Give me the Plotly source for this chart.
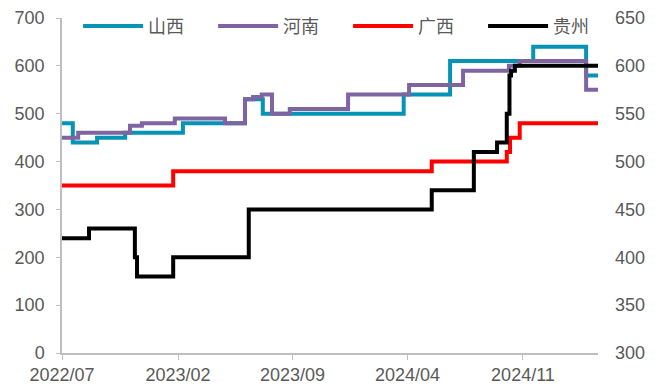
import plotly.graph_objects as go

# Step-wise price series (date of each change, level from that date on)
shanxi_dates = ["2022-07-01", "2022-07-21", "2022-09-04", "2022-10-26", "2023-02-10",
                "2023-06-05", "2023-07-08", "2024-03-25", "2024-06-19", "2024-11-20",
                "2025-02-26", "2025-03-20"]
shanxi_vals = [480, 440, 450, 460, 480, 530, 500, 540, 610, 640, 580, 580]

henan_dates = ["2022-07-01", "2022-07-31", "2022-11-04", "2022-11-26", "2023-01-26",
               "2023-04-29", "2023-06-05", "2023-06-20", "2023-07-06", "2023-07-25",
               "2023-08-27", "2023-12-13", "2024-04-04", "2024-07-13", "2024-10-06",
               "2024-10-26", "2025-02-26", "2025-03-20"]
henan_vals = [450, 460, 475, 480, 490, 480, 530, 535, 540, 500, 510, 540, 560, 590,
              600, 610, 550, 550]

guangxi_dates = ["2022-07-01", "2023-01-23", "2024-05-16", "2024-10-02", "2024-10-08",
                 "2024-10-26", "2025-03-20"]
guangxi_vals = [350, 380, 400, 420, 450, 480, 480]

guizhou_dates = ["2022-07-01", "2022-08-20", "2022-11-13", "2022-11-17", "2023-01-23",
                 "2023-06-12", "2024-05-16", "2024-08-02", "2024-09-14", "2024-10-02",
                 "2024-10-07", "2024-10-10", "2024-10-17", "2025-03-20"]
guizhou_vals = [240, 260, 200, 160, 200, 300, 340, 420, 440, 500, 580, 590, 600, 600]

tick_dates = ["2022-07-01", "2023-02-01", "2023-09-01", "2024-04-01", "2024-11-01"]
tick_labels = ["2022/07", "2023/02", "2023/09", "2024/04", "2024/11"]

x_range = ["2022-07-01", "2025-03-20"]

series = [
    ("山西", shanxi_dates, shanxi_vals, "#0593B6"),
    ("河南", henan_dates, henan_vals, "#8064A2"),
    ("广西", guangxi_dates, guangxi_vals, "#FF0000"),
    ("贵州", guizhou_dates, guizhou_vals, "#000000"),
]

fig = go.Figure()
for name, xs, ys, color in series:
    fig.add_trace(go.Scatter(
        x=xs, y=ys, name=name, mode="lines",
        line=dict(color=color, width=4, shape="hv"),
    ))

# carrier trace so the secondary axis is drawn
fig.add_trace(go.Scatter(
    x=[x_range[0]], y=[300], yaxis="y2", mode="markers",
    marker=dict(opacity=0), showlegend=False, hoverinfo="skip",
))

tick_font = dict(family="Liberation Sans, Arial, sans-serif", size=18, color="#595959")

fig.update_layout(
    width=666, height=387,
    margin=dict(l=62, r=68, t=18, b=34, autoexpand=False),
    paper_bgcolor="white", plot_bgcolor="white",
    showlegend=True,
    legend=dict(
        orientation="h", x=0.03, xanchor="left", y=0.975, yanchor="middle",
        font=dict(family="Noto Sans CJK SC", size=18, color="#595959"),
        bgcolor="rgba(0,0,0,0)", itemwidth=60,
        entrywidth=60, entrywidthmode="pixels",
    ),
    xaxis=dict(
        type="date", range=x_range,
        tickvals=tick_dates, ticktext=tick_labels,
        showgrid=False, zeroline=False,
        showline=True, linecolor="#BFBFBF", linewidth=1.5,
        ticks="outside", ticklen=5, tickcolor="#BFBFBF",
        tickfont=tick_font,
    ),
    yaxis=dict(
        range=[0, 700], tickvals=list(range(0, 701, 100)),
        showgrid=False, zeroline=False,
        showline=True, linecolor="#BFBFBF", linewidth=1.5,
        ticks="outside", ticklen=4, tickcolor="#BFBFBF",
        ticklabelstandoff=8,
        tickfont=tick_font,
    ),
    yaxis2=dict(
        range=[300, 650], tickvals=list(range(300, 651, 50)),
        overlaying="y", side="right",
        showgrid=False, zeroline=False, showline=False,
        ticks="", ticklabelstandoff=16,
        tickfont=tick_font,
    ),
)

fig.write_html("out.html")
